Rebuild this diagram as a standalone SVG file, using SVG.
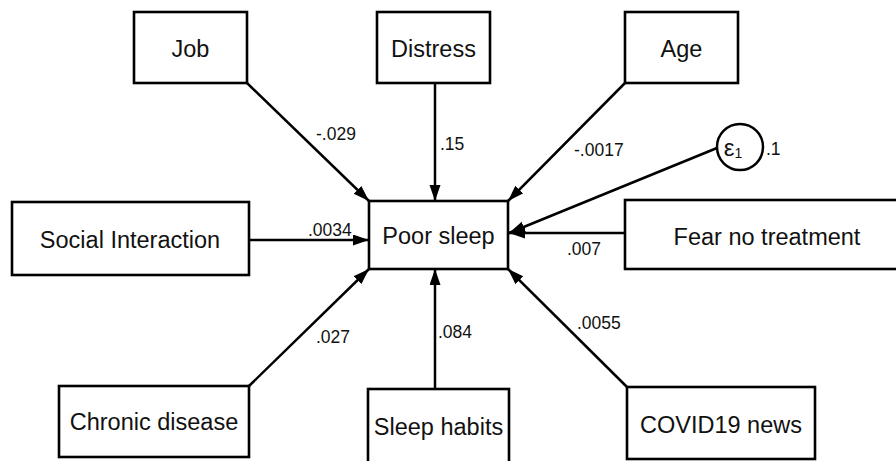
<svg xmlns="http://www.w3.org/2000/svg" width="896" height="461" viewBox="0 0 896 461">
<defs>
<marker id="ah" markerUnits="userSpaceOnUse" markerWidth="18" markerHeight="12" refX="16" refY="5.5" orient="auto">
<path d="M0,0 L16,5.5 L0,11 z" fill="#000"/>
</marker>
<style>
.box{fill:#fff;stroke:#000;stroke-width:2.6}
.lbl{font-family:"Liberation Sans",Arial,sans-serif;font-size:23.5px;fill:#111;text-anchor:middle}
.coef{font-family:"Liberation Sans",Arial,sans-serif;font-size:17.5px;fill:#111}
.edge{stroke:#000;stroke-width:2.5;fill:none;marker-end:url(#ah)}
</style>
</defs>
<rect width="896" height="461" fill="#fff"/>
<g id="connectors">
<line class="edge" x1="247" y1="83" x2="369" y2="201"/>
<line class="edge" x1="435" y1="83" x2="435" y2="201"/>
<line class="edge" x1="625" y1="83" x2="508" y2="201"/>
<line class="edge" x1="717" y1="148" x2="509" y2="233"/>
<line class="edge" x1="625" y1="233" x2="509" y2="233"/>
<line class="edge" x1="249" y1="240" x2="369" y2="240"/>
<line class="edge" x1="249" y1="386" x2="369" y2="269"/>
<line class="edge" x1="435" y1="389" x2="435" y2="269"/>
<line class="edge" x1="627" y1="387" x2="508" y2="269"/>
<text class="coef" x="316" y="140">-.029</text>
<text class="coef" x="440" y="150">.15</text>
<text class="coef" x="574" y="156">-.0017</text>
<text class="coef" x="766" y="155">.1</text>
<text class="coef" x="308" y="236">.0034</text>
<text class="coef" x="567" y="255">.007</text>
<text class="coef" x="316" y="343">.027</text>
<text class="coef" x="438" y="338">.084</text>
<text class="coef" x="577" y="329">.0055</text>
</g>
<g id="job"><rect class="box" x="134" y="12" width="113" height="71"/><text class="lbl" x="190.5" y="57">Job</text></g>
<g id="distress"><rect class="box" x="377" y="12" width="113" height="71"/><text class="lbl" x="433.5" y="57">Distress</text></g>
<g id="age"><rect class="box" x="625" y="12" width="113" height="71"/><text class="lbl" x="681.5" y="57">Age</text></g>
<g id="epsilon"><circle cx="740" cy="147" r="23" fill="#fff" stroke="#000" stroke-width="2.5"/><text x="733" y="156" font-family="'Liberation Sans',Arial,sans-serif" font-size="24" fill="#111" text-anchor="middle">ε<tspan font-size="14" dy="2">1</tspan></text></g>
<g id="social"><rect class="box" x="12" y="202" width="237" height="73"/><text class="lbl" x="130" y="248">Social Interaction</text></g>
<g id="poorsleep"><rect class="box" x="369" y="201" width="139" height="68"/><text class="lbl" x="438.5" y="244">Poor sleep</text></g>
<g id="fear"><rect class="box" x="625" y="200" width="290" height="69"/><text class="lbl" x="767" y="245">Fear no treatment</text></g>
<g id="chronic"><rect class="box" x="59" y="386" width="190" height="71"/><text class="lbl" x="154" y="430">Chronic disease</text></g>
<g id="sleephabits"><rect class="box" x="368" y="389" width="141" height="80"/><text class="lbl" x="438.5" y="435">Sleep habits</text></g>
<g id="covid"><rect class="box" x="627" y="387" width="188" height="72"/><text class="lbl" x="721" y="433">COVID19 news</text></g>
</svg>
